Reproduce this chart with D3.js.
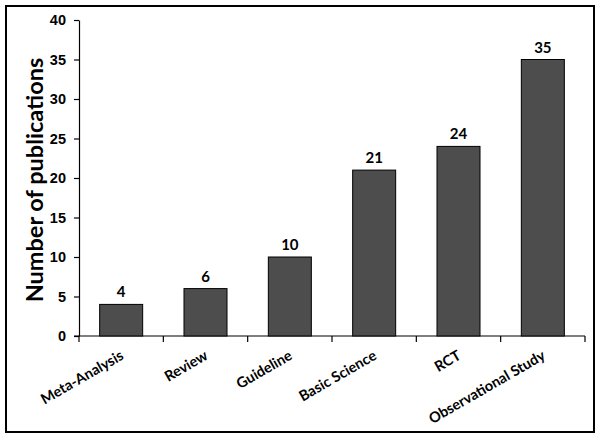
<!DOCTYPE html>
<html>
<head>
<meta charset="utf-8">
<script src="https://cdn.jsdelivr.net/npm/d3@7"></script>
<style>
    body { margin: 0; background: #fff; }
    svg { display: block; font-family: Lato, "Open Sans", sans-serif; }
    .bar { fill: #4d4d4d; stroke: #000; stroke-width: 1; }
    .axis path, .axis line { stroke: #000; stroke-width: 1.2; }
    .axis text { font-size: 14.5px; font-weight: bold; fill: #000; }
    .value { font-size: 15px; font-weight: bold; text-anchor: middle; }
    .ytitle { font-size: 23.5px; font-weight: bold; text-anchor: middle; }
</style>
</head>
<body>
<svg width="601" height="440"></svg>
<script>
const categories = ["Meta-Analysis", "Review", "Guideline", "Basic Science", "RCT", "Observational Study"]
const counts = [4, 6, 10, 21, 24, 35]
const yTicks = [0, 5, 10, 15, 20, 25, 30, 35, 40]

const data = categories.map((c, i) => ({ category: c, value: counts[i] }))

const svg = d3.select("svg")

// outer frame
svg.append("rect")
    .attr("x", 6)
    .attr("y", 6)
    .attr("width", 588)
    .attr("height", 426)
    .attr("fill", "none")
    .attr("stroke", "#000")
    .attr("stroke-width", 2)

const x = d3.scaleBand()
    .domain(categories)
    .range([79, 585])
    .paddingInner(0.49)
    .paddingOuter(0.245)

const y = d3.scaleLinear()
    .domain([0, 40])
    .range([336, 20])

// y axis
svg.append("g")
    .attr("class", "axis")
    .attr("transform", "translate(79,0)")
    .call(d3.axisLeft(y).tickValues(yTicks).tickSize(5).tickSizeOuter(0).tickPadding(8))

// x axis: ticks at band boundaries, no labels
const xAxisG = svg.append("g")
    .attr("class", "axis")
    .attr("transform", "translate(0,336)")

const bounds = d3.range(categories.length + 1).map(i => 79 + i * x.step())

xAxisG.append("line")
    .attr("x1", 79 - 5)
    .attr("x2", 585)
    .attr("y1", 0)
    .attr("y2", 0)

xAxisG.selectAll("line.tick")
    .data(bounds)
    .enter()
    .append("line")
    .attr("class", "tick")
    .attr("x1", d => d)
    .attr("x2", d => d)
    .attr("y1", 0)
    .attr("y2", 6)

// bars
svg.selectAll("rect.bar")
    .data(data)
    .enter()
    .append("rect")
    .attr("class", "bar")
    .attr("x", d => x(d.category))
    .attr("y", d => y(d.value))
    .attr("width", x.bandwidth())
    .attr("height", d => y(0) - y(d.value))

// value labels
svg.selectAll("text.value")
    .data(data)
    .enter()
    .append("text")
    .attr("class", "value")
    .attr("x", d => x(d.category) + x.bandwidth() / 2)
    .attr("y", d => y(d.value) - 7)
    .text(d => d.value)

// category labels, rotated
svg.selectAll("text.cat")
    .data(data)
    .enter()
    .append("text")
    .attr("class", "cat")
    .attr("transform", d => `translate(${x(d.category) + x.bandwidth() / 2 - 2},${349}) rotate(-30)`)
    .attr("text-anchor", "end")
    .attr("dy", "0.75em")
    .style("font-size", "14.5px")
    .style("font-weight", "bold")
    .text(d => d.category)

// y title
svg.append("text")
    .attr("class", "ytitle")
    .attr("transform", `translate(43,${(y(0) + y(40)) / 2 + 2}) rotate(-90)`)
    .text("Number of publications")
</script>
</body>
</html>
